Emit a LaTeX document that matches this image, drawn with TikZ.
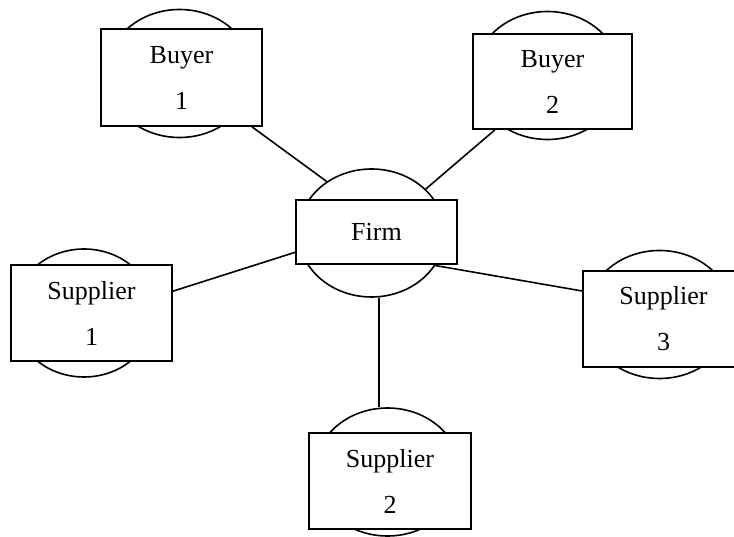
\documentclass[tikz,border=0pt]{standalone}
\usepackage{fontspec}
\setmainfont{Liberation Serif}
\usetikzlibrary{shapes.geometric}
\begin{document}
\begin{tikzpicture}[x=1pt,y=-1pt,
  ell/.style={draw,ellipse,line width=1.6pt,minimum width=146pt,minimum height=128pt,inner sep=0pt},
  box/.style={draw,fill=white,line width=1.6pt,minimum width=161pt,minimum height=96pt,inner sep=0pt,align=center,font=\fontsize{26}{46}\selectfont},
  conn/.style={line width=1.6pt}]
\useasboundingbox (0,0) rectangle (734,537);
\clip (0,0) rectangle (734,537);
% ellipses
\node[ell] (b1e) at (179.5,73.5) {};
\node[ell] (b2e) at (547.5,75.5) {};
\node[ell] (firme) at (371.5,233) {};
\node[ell,minimum width=141pt] (s1e) at (84,313) {};
\node[ell] (s3e) at (659.5,314.5) {};
\node[ell] (s2e) at (387.5,472) {};
% boxes
\node[box,minimum height=97pt] (b1) at (181.5,77.5) {Buyer\\1};
\node[box,minimum width=159pt,minimum height=95pt] (b2) at (552.5,81.5) {Buyer\\2};
\node[box,minimum height=64pt] (firm) at (376.5,232) {Firm};
\node[box] (s1) at (91.5,313) {Supplier\\1};
\node[box] (s3) at (663.5,319) {Supplier\\3};
\node[box,minimum width=162pt] (s2) at (390,481) {Supplier\\2};
% connectors
\coordinate (vx) at (379,0);
\draw[conn] (b1.-35.5) -- (firme.131.1);
\draw[conn] (b2.-140.2) -- (firme.39.9);
\draw[conn] (s1.15.3) -- (firm.-166.7);
\draw[conn] (firme.-27.5) -- (s3.161.5);
\draw[conn] (firme.south -| vx) -- (s2e.north -| vx);
\end{tikzpicture}
\end{document}
